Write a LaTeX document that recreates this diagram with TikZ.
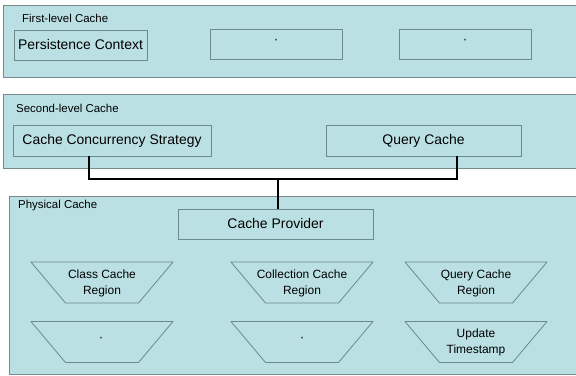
\documentclass[tikz,border=0pt]{standalone}
\usepackage{fontspec}
\setmainfont{Liberation Sans}
\usetikzlibrary{calc}
\definecolor{panelfill}{HTML}{BBE0E3}
\definecolor{panelline}{HTML}{7A8A8C}
\definecolor{boxline}{HTML}{6A8A8C}
\tikzset{
  panel/.style={draw=panelline, fill=panelfill, line width=0.9bp},
  boxn/.style={draw=boxline, line width=0.9bp, inner sep=0pt, minimum height=30bp,
    font=\fontsize{14}{16}\selectfont},
  lbl/.style={anchor=base west, inner sep=0pt, font=\fontsize{11.5}{13}\selectfont},
  trapline/.style={draw=boxline, line width=0.8bp, line join=round},
  traptext/.style={inner sep=0pt, align=center, font=\fontsize{12}{16}\selectfont},
  ditto/.style={inner sep=0pt, font=\fontsize{7.5}{7.5}\selectfont},
  conn/.style={draw=black, line width=2.2bp}
}
\newcommand\trapzd[1]{%
  \draw[trapline] ($(#1)+(-71,-20.5)$) -- ($(#1)+(71,-20.5)$) -- ($(#1)+(36.5,20.5)$) -- ($(#1)+(-36.5,20.5)$) -- cycle;}
\begin{document}
\begin{tikzpicture}[x=1bp,y=-1bp]
\useasboundingbox (0,0) rectangle (576,375);
\clip (0,0) rectangle (576,375);
\fill[white] (0,0) rectangle (576,375);
% panels
\draw[panel] (3,5) rectangle (590,77);
\draw[panel] (3,94) rectangle (590,168);
\draw[panel] (9,196) rectangle (590,374.5);
\node[lbl] (l1) at (22,22.5) {First-level Cache};
\node[lbl] (l2) at (16,112) {Second-level Cache};
\node[lbl] (l3) at (18,208) {Physical Cache};
% first level
\node[boxn, minimum width=133bp] (pc) at (80.5,45) {Persistence Context};
\node[boxn, minimum width=132bp] (b2) at (276,44.5) {};
\node[boxn, minimum width=132bp] (b3) at (465,44.5) {};
\node[ditto] (d2) at (276,42) {”};
\node[ditto] (d3) at (465,42) {”};
% second level
\node[boxn, minimum width=198bp, minimum height=31bp] (ccs) at (112,140.5) {Cache Concurrency Strategy};
\node[boxn, minimum width=195bp, minimum height=31bp] (qc) at (423.5,140.5) {Query Cache};
% physical
\node[boxn, minimum width=195bp] (cp) at (275.5,224) {Cache Provider};
\coordinate (j) at (278,179);
\draw[conn] (ccs.south -| 89,0) |- (j) -| (qc.south -| 457,0);
\draw[conn] (j) -- (cp.north -| j);
% trapezia
\coordinate (c1) at (102,282.5);
\coordinate (c2) at (302,282.5);
\coordinate (c3) at (476,282.5);
\coordinate (c4) at (102,342);
\coordinate (c5) at (302,342);
\coordinate (c6) at (476,342);
\trapzd{c1}\trapzd{c2}\trapzd{c3}\trapzd{c4}\trapzd{c5}\trapzd{c6}
\node[traptext] (t1) at ($(c1)+(0,0.5)$) {Class Cache\\Region};
\node[traptext] (t2) at ($(c2)+(0,0.5)$) {Collection Cache\\Region};
\node[traptext] (t3) at ($(c3)+(0,0.5)$) {Query Cache\\Region};
\node[traptext] (t6) at ($(c6)+(0,0.5)$) {Update\\Timestamp};
\node[ditto] (d4) at (101,340) {”};
\node[ditto] (d5) at (302,340) {”};
\end{tikzpicture}
\end{document}
